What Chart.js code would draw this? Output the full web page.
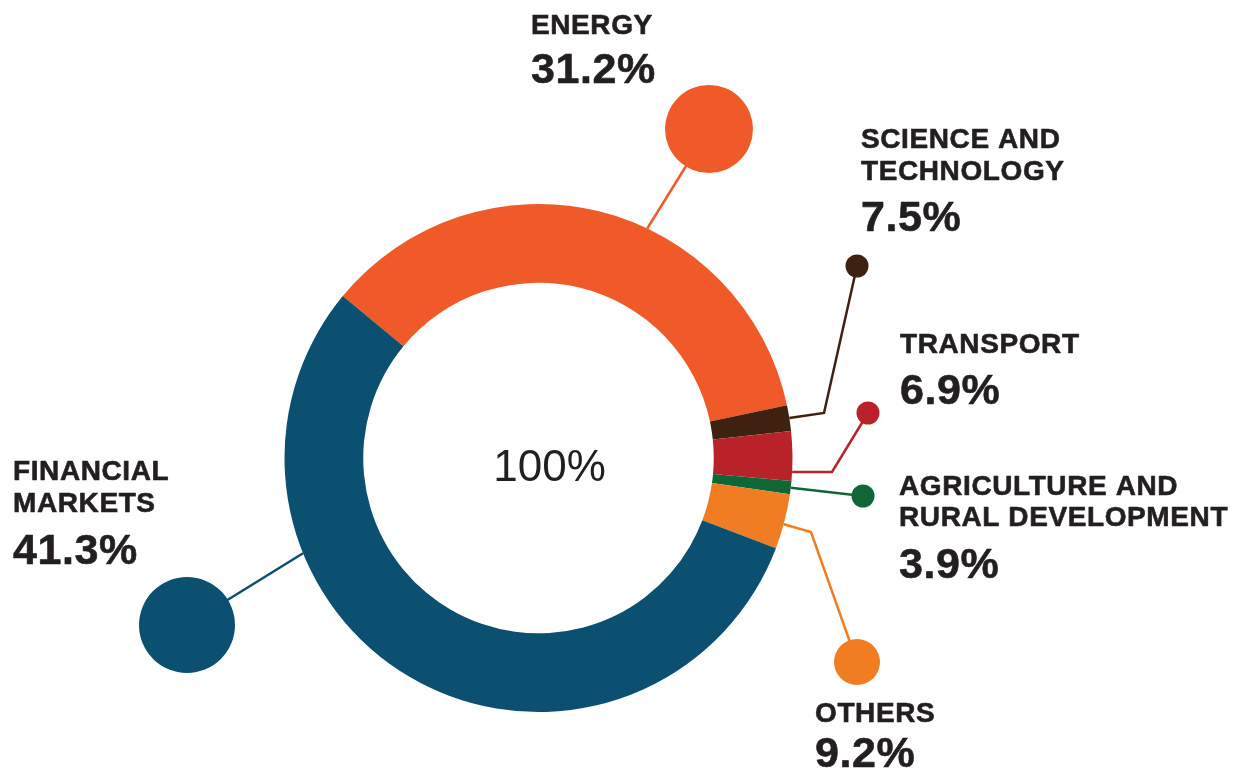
<!DOCTYPE html>
<html>
<head>
<meta charset="utf-8">
<script src="https://cdn.jsdelivr.net/npm/chart.js@4.4.1/dist/chart.umd.min.js"></script>
<style>
  html, body { margin: 0; padding: 0; background: #fff; }
  #wrap { width: 1243px; height: 775px; position: relative; }
</style>
</head>
<body>
<div id="wrap"><canvas id="ringChart" width="1243" height="775"></canvas></div>
<script>
// categories, printed shares and the ring as it is drawn (degrees of the circle)
const categories = [
  ['ENERGY'],
  ['SCIENCE AND', 'TECHNOLOGY'],
  ['TRANSPORT'],
  ['AGRICULTURE AND', 'RURAL DEVELOPMENT'],
  ['OTHERS'],
  ['FINANCIAL', 'MARKETS']
];
const labelPct = ['31.2%', '7.5%', '6.9%', '3.9%', '9.2%', '41.3%'];
const arcShare = [128.4, 5.9, 11.3, 3.0, 12.6, 198.8];
const colors = ['#EF5A28', '#3F2111', '#B82228', '#0F6738', '#F07D21', '#0B4F71'];
const centerText = '100%';

// where each label block sits and how its leader line runs (layout only)
const callouts = [
  { tx: 531, base: [34], pctBase: 83, frac: 0.59, dot: [170.5, -329], r: 44 },
  { tx: 861, base: [148, 180], pctBase: 231, frac: 0.5, knee: [285.5, -45], dot: [318.5, -192], r: 11.5 },
  { tx: 900, base: [353], pctBase: 404, frac: 0.82, knee: [293.5, 14], dot: [329.5, -45], r: 11.5 },
  { tx: 899, base: [495, 526], pctBase: 578, frac: 0.5, dot: [324.5, 38], r: 11.5 },
  { tx: 815, base: [722], pctBase: 767, frac: 0.55, knee: [272.5, 74], dot: [318.5, 204], r: 23 },
  { tx: 13, base: [480, 512], pctBase: 564, frac: 0.69, dot: [-351.5, 167], r: 48 }
];

function heavyText(ctx, txt, x, y) {
  ctx.fillText(txt, x, y);
  ctx.strokeText(txt, x, y);
}

const calloutPlugin = {
  id: 'callouts',
  afterDatasetsDraw(chart) {
    const ctx = chart.ctx;
    const meta = chart.getDatasetMeta(0);
    ctx.save();
    meta.data.forEach((arc, i) => {
      const c = callouts[i];
      const p = arc.getProps(['x', 'y', 'startAngle', 'endAngle', 'outerRadius'], true);
      const a = p.startAngle + c.frac * (p.endAngle - p.startAngle);
      const ax = p.x + p.outerRadius * Math.cos(a);
      const ay = p.y + p.outerRadius * Math.sin(a);
      const dx = p.x + c.dot[0];
      const dy = p.y + c.dot[1];

      ctx.strokeStyle = colors[i];
      ctx.lineWidth = 2.5;
      ctx.lineJoin = 'miter';
      ctx.beginPath();
      ctx.moveTo(ax, ay);
      if (c.knee) ctx.lineTo(p.x + c.knee[0], p.y + c.knee[1]);
      ctx.lineTo(dx, dy);
      ctx.stroke();

      ctx.fillStyle = colors[i];
      ctx.beginPath();
      ctx.arc(dx, dy, c.r, 0, Math.PI * 2);
      ctx.fill();

      ctx.fillStyle = '#231F20';
      ctx.strokeStyle = '#231F20';
      ctx.lineWidth = 0.6;
      ctx.lineJoin = 'round';
      ctx.textBaseline = 'alphabetic';
      ctx.textAlign = 'left';
      ctx.letterSpacing = '0.6px';
      ctx.font = 'bold 28px "Liberation Sans", Arial, sans-serif';
      categories[i].forEach((line, k) => heavyText(ctx, line, c.tx, c.base[k]));
      ctx.font = 'bold 43px "Liberation Sans", Arial, sans-serif';
      heavyText(ctx, labelPct[i], c.tx, c.pctBase);
    });

    const m = meta.data[0];
    ctx.letterSpacing = '0px';
    ctx.fillStyle = '#231F20';
    ctx.textAlign = 'center';
    ctx.font = '44px "Liberation Sans", Arial, sans-serif';
    ctx.fillText(centerText, m.x + 11, m.y + 23);
    ctx.restore();
  }
};

const ctxRing = document.getElementById('ringChart');
new Chart(ctxRing, {
  type: 'doughnut',
  data: {
    labels: categories.map(c => c.join(' ')),
    datasets: [{
      data: arcShare,
      backgroundColor: colors,
      borderWidth: 0,
      hoverOffset: 0
    }]
  },
  options: {
    responsive: false,
    animation: false,
    devicePixelRatio: 1,
    rotation: -50.4,
    cutout: '69%',
    layout: {
      padding: { left: 284.5, top: 204, right: 450.5, bottom: 63 }
    },
    plugins: {
      legend: { display: false },
      tooltip: { enabled: false }
    }
  },
  plugins: [calloutPlugin]
});
</script>
</body>
</html>
